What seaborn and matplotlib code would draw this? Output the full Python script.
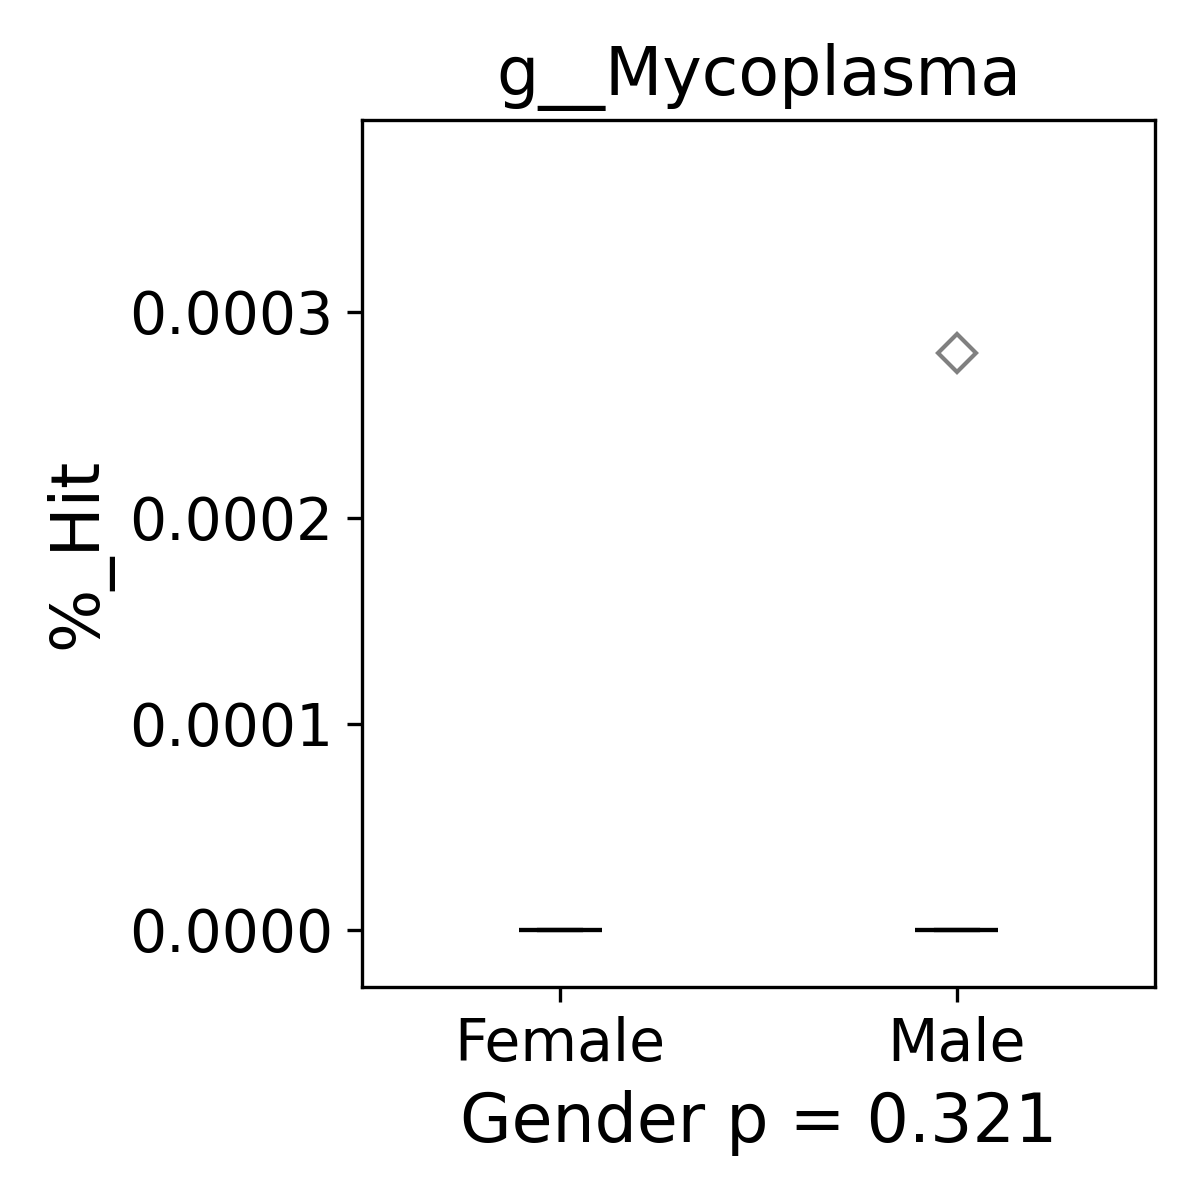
import numpy as np
import pandas as pd
import seaborn as sns
from matplotlib import pyplot as plt

# values
female_hits = [0.0, 0.0, 0.0, 0.0, 0.0, 0.0, 0.0, 0.0, 0.0, 0.0]
male_hits = [0.0, 0.0, 0.0, 0.0, 0.0, 0.0, 0.0, 0.0, 0.0, 0.00028]
groups = ['Female', 'Male']
title = 'g__Mycoplasma'
p_value = 0.321

df = pd.DataFrame({
    'Gender': ['Female'] * len(female_hits) + ['Male'] * len(male_hits),
    '%_Hit': female_hits + male_hits,
})

fig, ax = plt.subplots(figsize=(4, 4), dpi=300)
plt.subplots_adjust(left=0.3017, right=0.9625, top=0.9, bottom=0.1775)

sns.boxplot(data=df, x='Gender', y='%_Hit', order=groups, ax=ax, width=0.21,
            color='white', linecolor='black', linewidth=1,
            flierprops=dict(marker='D', markersize=6.5, markerfacecolor='none',
                            markeredgecolor='gray', markeredgewidth=1))

ax.set_xlim(-0.5, 1.5)
ax.set_ylim(-0.0000277, 0.000393)
ax.set_yticks([0.0, 0.0001, 0.0002, 0.0003])
ax.set_yticklabels(['0.0000', '0.0001', '0.0002', '0.0003'])
ax.tick_params(labelsize=14)
ax.set_title(title, fontsize=16)
ax.set_xlabel('Gender p = ' + str(p_value), fontsize=16)
ax.set_ylabel('%_Hit', fontsize=16)

plt.savefig('out.png', dpi=300)
